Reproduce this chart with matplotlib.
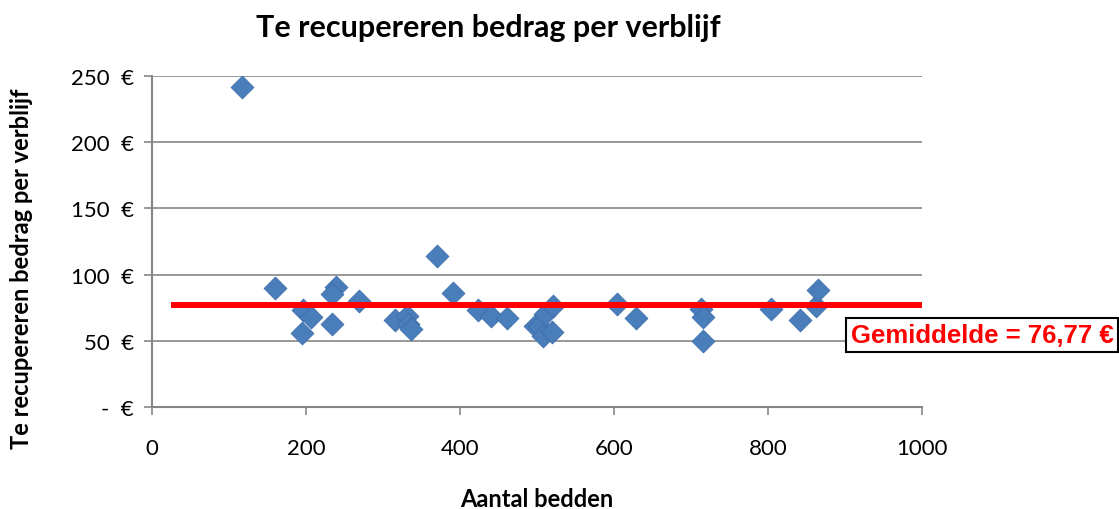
import matplotlib
matplotlib.use("Agg")
import matplotlib.pyplot as plt
import numpy as np

# ── Data ───────────────────────────────────────────────────────────────────
bedden = [117, 160, 196, 206, 195, 239, 234, 234, 269, 316, 331, 333, 336,
          370, 391, 424, 440, 461, 497, 502, 508, 510, 519, 521, 604, 629,
          713, 715, 715, 804, 842, 862, 865]
bedrag = [242, 90, 73, 68, 56, 91, 85, 63, 80, 66, 69, 63, 59,
          114, 86, 73, 69, 67, 61, 61, 54, 70, 57, 76, 78, 67,
          74, 68, 50, 74, 66, 76, 88]
gemiddelde = 76.77
mean_x = [25, 1000]

y_ticks = [0, 50, 100, 150, 200, 250]
y_labels = ["-  €", "50  €", "100  €", "150  €", "200  €", "250  €"]
x_ticks = [0, 200, 400, 600, 800, 1000]

FONT = "Lato"
GRAY = "#868686"

fig = plt.figure(figsize=(11.19, 5.10), dpi=100)
ax = fig.add_axes([152 / 1119, 1 - 408 / 510, 770 / 1119, 331 / 510])

ax.scatter(bedden, bedrag, marker="D", s=135, color="#4a7ebb",
           edgecolors="#3c6ea8", linewidths=0.6, zorder=3)
ax.plot(mean_x, [gemiddelde, gemiddelde], color="#ff0000", linewidth=4.3,
        zorder=4, solid_capstyle="butt", clip_on=False)

ax.set_xlim(0, 1000)
ax.set_ylim(0, 250)
ax.set_xticks(x_ticks)
ax.set_yticks(y_ticks)
ax.set_yticklabels(y_labels)
ax.grid(axis="y", color=GRAY, linewidth=1.2)
ax.set_axisbelow(True)
for side in ("top", "right"):
    ax.spines[side].set_visible(False)
for side in ("left", "bottom"):
    ax.spines[side].set_color(GRAY)
    ax.spines[side].set_linewidth(1.5)
ax.tick_params(axis="both", color=GRAY, width=1.2, length=6, labelsize=16)
ax.tick_params(axis="y", pad=7)
ax.tick_params(axis="x", pad=16)
for lbl in ax.get_xticklabels() + ax.get_yticklabels():
    lbl.set_family(FONT)

fig.text(488 / 1119, 1 - 28 / 510, "Te recupereren bedrag per verblijf",
         ha="center", va="center", fontsize=22, fontweight="bold", family=FONT)
fig.text(537 / 1119, 1 - 500 / 510, "Aantal bedden", ha="center",
         va="center", fontsize=17, fontweight="bold", family=FONT)
fig.text(22 / 1119, 1 - 269 / 510, "Te recupereren bedrag per verblijf",
         ha="center", va="center", rotation=90, fontsize=17,
         fontweight="bold", family=FONT)

fig.text(851 / 1119, 1 - 336 / 510, "Gemiddelde = 76,77 €", ha="left",
         va="center", color="#ff0000", fontsize=18.5, fontweight="bold",
         family="Liberation Sans",
         bbox=dict(boxstyle="square,pad=0.18", facecolor="white",
                   edgecolor="black", linewidth=1.5))

fig.savefig("out.png", dpi=100)
plt.close(fig)
